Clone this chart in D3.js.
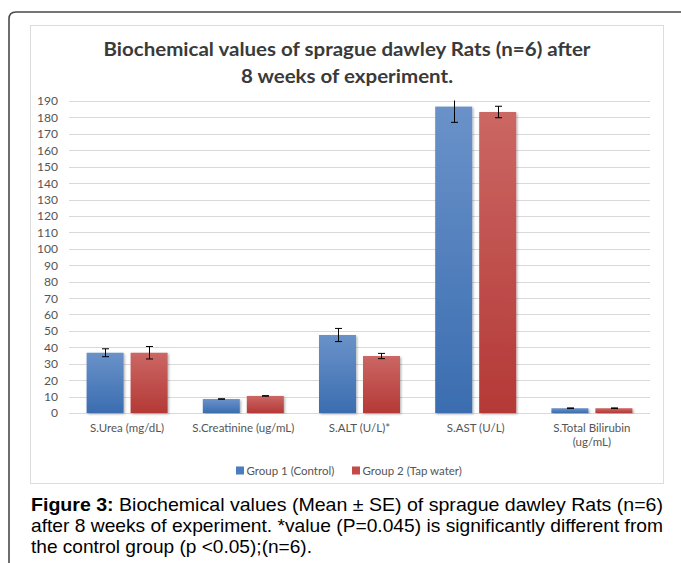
<!DOCTYPE html>
<html>
<head>
<meta charset="utf-8">
<script src="https://cdn.jsdelivr.net/npm/d3@7"></script>
<style>
  html, body { margin: 0; padding: 0; background: #fff; }
  svg { display: block; }
</style>
</head>
<body>
<svg id="chart" width="681" height="563"></svg>
<script>
// ---- data ----
const categories = ["S.Urea (mg/dL)", "S.Creatinine (ug/mL)", "S.ALT (U/L)*", "S.AST (U/L)", "S.Total Bilirubin (ug/mL)"];
const categoryLines = [["S.Urea (mg/dL)"], ["S.Creatinine (ug/mL)"], ["S.ALT (U/L)*"], ["S.AST (U/L)"], ["S.Total Bilirubin", "(ug/mL)"]];
const seriesNames = ["Group 1 (Control)", "Group 2 (Tap water)"];
const group1 = [36.7, 8.5, 47.5, 186.6, 2.9];
const group1SE = [2.4, 0.15, 4.0, 9.6, 0.2];
const group2 = [36.7, 10.4, 34.7, 183.3, 2.9];
const group2SE = [3.8, 0.15, 1.6, 3.5, 0.2];
const yTicks = d3.range(0, 191, 10);
const titleLines = ["Biochemical values of sprague dawley Rats (n=6) after", "8 weeks of experiment."];
const captionLines = [
  ["Figure 3:", " Biochemical values (Mean \u00B1 SE) of sprague dawley Rats (n=6)"],
  ["", "after 8 weeks of experiment. *value (P=0.045) is significantly different from"],
  ["", "the control group (p <0.05);(n=6)."]
];

const svg = d3.select("#chart");
const defs = svg.append("defs");

function grad(id, top, bottom) {
  const g = defs.append("linearGradient").attr("id", id).attr("x1", 0).attr("y1", 0).attr("x2", 0).attr("y2", 1);
  g.append("stop").attr("offset", "0%").attr("stop-color", top);
  g.append("stop").attr("offset", "100%").attr("stop-color", bottom);
}
grad("gBlue", "#6a92c9", "#3b6db0");
grad("gRed", "#cb6764", "#b43936");
const colors = ["url(#gBlue)", "url(#gRed)"];
const legendColors = ["#4a7cc0", "#c44a47"];

const f = defs.append("filter").attr("id", "shadow").attr("x", "-20%").attr("y", "-5%").attr("width", "140%").attr("height", "110%");
f.append("feDropShadow").attr("dx", 1.2).attr("dy", 1.2).attr("stdDeviation", 1.2).attr("flood-color", "#000").attr("flood-opacity", 0.3);

// outer frame
svg.append("path")
  .attr("d", "M9,563 L9,19 Q9,12 16,12 L681,12")
  .attr("fill", "none").attr("stroke", "#4a4a4a").attr("stroke-width", 1.6);

// inner chart box
svg.append("rect").attr("x", 30.5).attr("y", 25.5).attr("width", 633).attr("height", 458)
  .attr("fill", "#fff").attr("stroke", "#dcdcdc").attr("stroke-width", 1);

function stretch(sel, factor) {
  sel.each(function () {
    const w = this.getComputedTextLength();
    d3.select(this).attr("textLength", w * factor).attr("lengthAdjust", "spacingAndGlyphs");
  });
}

// title
const title = svg.append("g").attr("font-family", "Lato, 'Open Sans', sans-serif").attr("font-weight", "bold")
  .attr("font-size", 19.2).attr("fill", "#3a3a3a").attr("text-anchor", "middle");
const t1 = title.append("text").attr("x", 347).attr("y", 56).text(titleLines[0]);
const t2 = title.append("text").attr("x", 347).attr("y", 83).text(titleLines[1]);
const tf = 487 / t1.node().getComputedTextLength();
stretch(t1, tf); stretch(t2, tf);

// scales
const x = d3.scaleBand().domain(categories).range([69, 650]).paddingInner(0).paddingOuter(0);
const xi = d3.scaleBand().domain([0, 1]).range([0, x.bandwidth()]).paddingInner(0.159).paddingOuter(0.4);
const y = d3.scaleLinear().domain([0, 190]).range([413, 101]);

// gridlines
svg.append("g").selectAll("line").data(yTicks).join("line")
  .attr("x1", 69).attr("x2", 650)
  .attr("y1", d => Math.round(y(d)) + 0.5).attr("y2", d => Math.round(y(d)) + 0.5)
  .attr("stroke", "#d9d9d9").attr("stroke-width", 1.2);

// y axis labels
const tickFont = 11;
const yAxis = d3.axisLeft(y).tickValues(yTicks).tickSize(0).tickPadding(0);
const yg = svg.append("g").attr("transform", "translate(58,0)").call(yAxis);
yg.select(".domain").remove();
yg.selectAll("text").attr("font-family", "Lato, sans-serif").attr("font-size", tickFont).attr("fill", "#555").attr("dy", "0.36em");
const tickProbe = svg.append("text").attr("font-family", "Lato, sans-serif").attr("font-size", tickFont).text("190");
const tkf = 21 / tickProbe.node().getComputedTextLength();
tickProbe.remove();
stretch(yg.selectAll("text"), tkf);

// label stretch factor from reference width of "S.Creatinine (ug/mL)" = 102px
const lblFont = 11.4;
const probe = svg.append("text").attr("font-family", "Lato, sans-serif").attr("font-size", lblFont).text("S.Creatinine (ug/mL)");
const lf = 102 / probe.node().getComputedTextLength();
probe.remove();

// bars
const series = [
  { vals: group1, se: group1SE },
  { vals: group2, se: group2SE }
];
const barG = svg.append("g");
series.forEach((s, si) => {
  barG.append("g").selectAll("rect").data(categories).join("rect")
    .attr("x", (c) => x(c) + xi(si))
    .attr("width", xi.bandwidth())
    .attr("y", (c, i) => y(s.vals[i]))
    .attr("height", (c, i) => y(0) - y(s.vals[i]))
    .attr("fill", colors[si])
    .attr("filter", "url(#shadow)");
});

// error bars (clipped to plot)
defs.append("clipPath").attr("id", "plotClip").append("rect").attr("x", 60).attr("y", 100.5).attr("width", 600).attr("height", 320);
const errG = svg.append("g").attr("clip-path", "url(#plotClip)").attr("stroke", "#000").attr("stroke-width", 1);
series.forEach((s, si) => {
  categories.forEach((c, i) => {
    const cx = Math.round(x(c) + xi(si) + xi.bandwidth() / 2) + 0.5;
    const yTop = y(s.vals[i] + s.se[i]);
    const yBot = y(s.vals[i] - s.se[i]);
    errG.append("line").attr("x1", cx).attr("x2", cx).attr("y1", yTop).attr("y2", yBot);
    errG.append("line").attr("x1", cx - 3.5).attr("x2", cx + 3.5).attr("y1", yTop).attr("y2", yTop);
    errG.append("line").attr("x1", cx - 3.5).attr("x2", cx + 3.5).attr("y1", yBot).attr("y2", yBot);
  });
});

// x labels
const xl = svg.append("g").attr("font-family", "Lato, sans-serif").attr("font-size", lblFont).attr("fill", "#555").attr("text-anchor", "middle");
categories.forEach((c, i) => {
  categoryLines[i].forEach((line, li) => {
    const t = xl.append("text").attr("x", x(c) + x.bandwidth() / 2).attr("y", 432 + li * 14).text(line);
    stretch(t, lf);
  });
});

// legend
const lg = svg.append("g").attr("font-family", "Lato, sans-serif").attr("font-size", lblFont).attr("fill", "#555");
const legendX = [236, 352];
seriesNames.forEach((n, i) => {
  lg.append("rect").attr("x", legendX[i]).attr("y", 466.5).attr("width", 8).attr("height", 8).attr("fill", legendColors[i]);
  const t = lg.append("text").attr("x", legendX[i] + 10.5).attr("y", 474.5).text(n);
  stretch(t, lf);
});

// caption
const cap = svg.append("g").attr("font-family", "'Liberation Sans', Arial, sans-serif").attr("font-size", 18.5).attr("fill", "#000");
const capWidths = [632, 632, 281];
const capY = [511, 532, 553];
captionLines.forEach((parts, i) => {
  const t = cap.append("text").attr("x", 31).attr("y", capY[i]).attr("textLength", capWidths[i]).attr("lengthAdjust", "spacingAndGlyphs");
  if (parts[0]) t.append("tspan").attr("font-weight", "bold").text(parts[0]);
  t.append("tspan").text(parts[1]);
});
</script>
</body>
</html>
